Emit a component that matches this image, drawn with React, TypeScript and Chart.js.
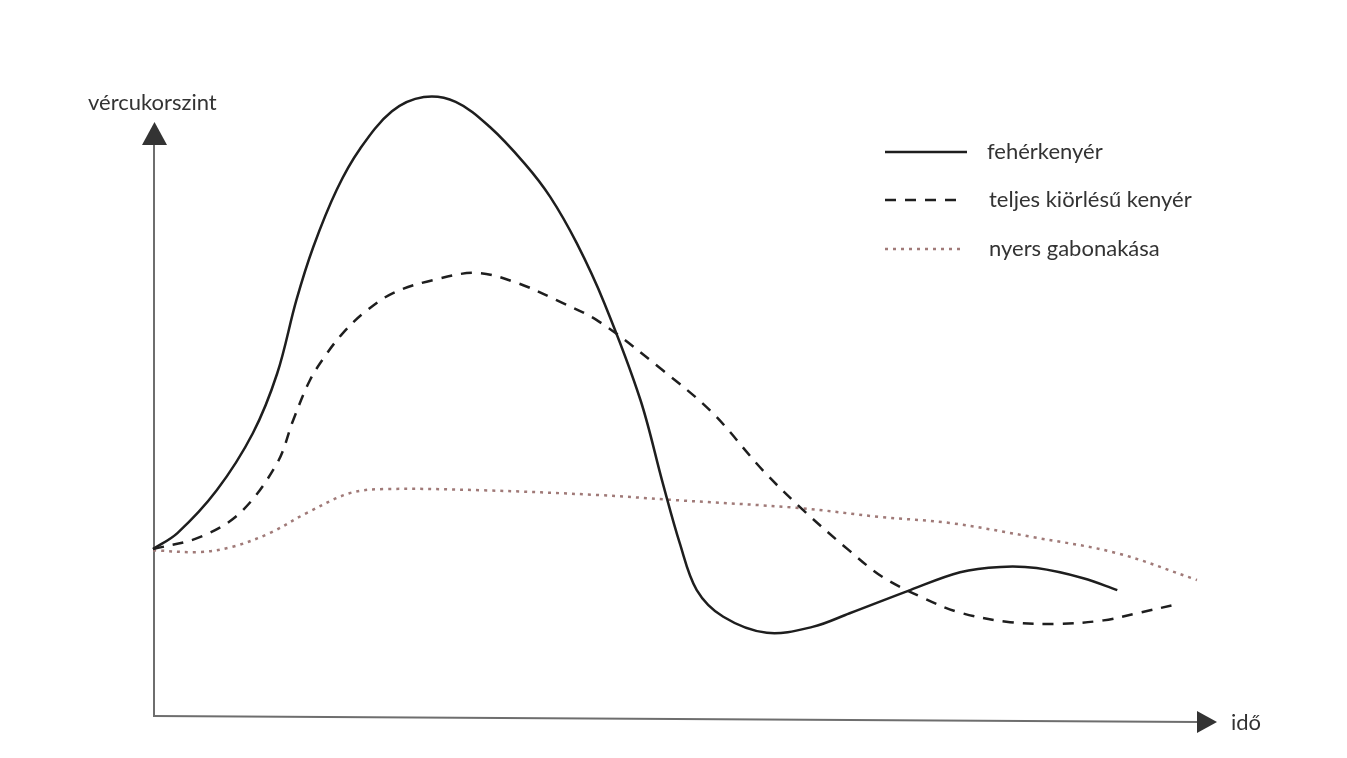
import React, { useEffect, useRef } from "react";
import { Chart, registerables } from "chart.js";

Chart.register(...registerables);

// time (0..100) and blood-sugar level (0..110) readings
const whiteX = [0, 2.3, 6.0, 9.4, 11.7, 13.5, 15.1, 17.3, 19.5, 22.5, 25.5, 28.5, 31.7, 35.0, 37.4, 39.9, 42.5, 45.9, 48.0, 49.6, 51.2, 53.7, 57.8, 62.1, 65.6, 71.3, 76.0, 79.8, 83.2, 87.6, 90.8];
const whiteY = [28.1, 30.8, 38.0, 47.6, 57.7, 70.0, 79.0, 88.6, 95.5, 101.8, 104.2, 103.4, 99.2, 93.0, 87.4, 79.6, 69.5, 53.2, 39.2, 29.1, 21.2, 16.7, 14.0, 15.0, 17.3, 21.2, 24.2, 25.1, 24.9, 23.2, 21.2];

const wholeX = [0, 4.4, 8.2, 11.7, 13.2, 14.8, 16.4, 17.9, 19.8, 22.6, 26.4, 30.5, 34.3, 38.0, 42.0, 48.0, 52.7, 57.4, 61.2, 65.6, 68.7, 72.5, 76.0, 80.7, 85.1, 89.5, 92.9, 95.9];
const wholeY = [28.1, 30.1, 34.2, 42.6, 49.8, 56.6, 61.1, 64.5, 67.8, 71.2, 73.4, 74.6, 72.9, 70.0, 66.4, 58.2, 51.0, 41.4, 34.7, 27.8, 23.4, 19.9, 17.4, 15.8, 15.5, 16.1, 17.4, 18.6];

const rawX = [0, 4.4, 7.5, 11.0, 14.5, 18.5, 21.7, 31.1, 41.9, 48.7, 60.9, 68.5, 75.0, 82.9, 90.8, 98.3];
const rawY = [27.9, 27.6, 28.5, 30.8, 34.2, 37.5, 38.2, 38.0, 37.2, 36.4, 35.0, 33.5, 32.5, 30.1, 27.4, 22.9];

const seriesLabels = ["fehérkenyér", "teljes kiörlésű kenyér", "nyers gabonakása"];
const yAxisTitle = "vércukorszint";
const xAxisTitle = "idő";

const FONT = 'Lato, "Open Sans", sans-serif';

const toPts = (xs: number[], ys: number[]) => xs.map((x, i) => ({ x, y: ys[i] }));

const decorPlugin = {
  id: "decor",
  beforeDatasetsDraw(chart: any) {
    const { ctx, scales } = chart;
    const xs = scales.x;
    const ys = scales.y;
    const x0 = xs.getPixelForValue(0);
    const y0 = ys.getPixelForValue(0);
    const yTip = ys.getPixelForValue(100);
    const xTip = xs.getPixelForValue(100);
    ctx.save();
    // y axis
    ctx.strokeStyle = "#6e6e6e";
    ctx.lineWidth = 2;
    ctx.beginPath();
    ctx.moveTo(x0 + 1, y0);
    ctx.lineTo(x0 + 1, yTip + 20);
    ctx.stroke();
    ctx.fillStyle = "#333";
    ctx.beginPath();
    ctx.moveTo(x0 + 1.5, yTip);
    ctx.lineTo(x0 - 11, yTip + 23);
    ctx.lineTo(x0 + 14, yTip + 23);
    ctx.closePath();
    ctx.fill();
    // x axis (slightly tilted as in the scan)
    ctx.beginPath();
    ctx.moveTo(x0, y0);
    ctx.lineTo(xTip - 16, y0 + 6);
    ctx.stroke();
    ctx.beginPath();
    ctx.moveTo(xTip + 2, y0 + 6);
    ctx.lineTo(xTip - 18, y0 - 5);
    ctx.lineTo(xTip - 18, y0 + 17);
    ctx.closePath();
    ctx.fill();
    // text size chosen so that the longest legend entry spans ~203px
    ctx.font = `17px ${FONT}`;
    const w = ctx.measureText(seriesLabels[1]).width;
    const size = Math.round((17 * 203 / w) * 10) / 10;
    ctx.font = `${size}px ${FONT}`;
    ctx.fillStyle = "#333";
    ctx.textBaseline = "middle";
    ctx.textAlign = "left";
    ctx.fillText(yAxisTitle, 88, 103);
    ctx.fillText(xAxisTitle, 1231, 723);
    // legend
    const rows = [152, 200, 249];
    const ends = [967, 956, 962];
    chart.data.datasets.forEach((ds: any, i: number) => {
      const y = rows[i];
      ctx.save();
      ctx.strokeStyle = ds.borderColor;
      ctx.lineWidth = ds.borderWidth;
      ctx.setLineDash(ds.borderDash || []);
      ctx.beginPath();
      ctx.moveTo(885, y);
      ctx.lineTo(ends[i], y);
      ctx.stroke();
      ctx.restore();
      ctx.fillStyle = "#333";
      ctx.fillText(ds.label, i === 0 ? 987 : 989, y);
    });
    ctx.restore();
  },
};

export default function App() {
  const ref = useRef<HTMLCanvasElement | null>(null);
  useEffect(() => {
    if (!ref.current) return;
    const chart = new Chart(ref.current, {
      type: "line",
      data: {
        datasets: [
          {
            label: seriesLabels[0],
            data: toPts(whiteX, whiteY),
            borderColor: "#1e1e1e",
            borderWidth: 2.5,
            pointRadius: 0,
            tension: 0.35,
            fill: false,
            clip: false,
          },
          {
            label: seriesLabels[1],
            data: toPts(wholeX, wholeY),
            borderColor: "#1e1e1e",
            borderWidth: 2.5,
            borderDash: [11, 9],
            pointRadius: 0,
            tension: 0.35,
            fill: false,
            clip: false,
          },
          {
            label: seriesLabels[2],
            data: toPts(rawX, rawY),
            borderColor: "#a07a78",
            borderWidth: 2.5,
            borderDash: [3, 5],
            pointRadius: 0,
            tension: 0.35,
            fill: false,
            clip: false,
          },
        ] as any,
      },
      options: {
        animation: false,
        responsive: false,
        devicePixelRatio: 1,
        layout: { padding: { left: 153, right: 132, top: 62.6, bottom: 42 } },
        scales: {
          x: { type: "linear", min: 0, max: 100, display: false },
          y: { type: "linear", min: 0, max: 110, display: false },
        },
        plugins: { legend: { display: false }, tooltip: { enabled: false } },
      },
      plugins: [decorPlugin],
    });
    return () => chart.destroy();
  }, []);
  return (
    <div style={{ position: "fixed", left: 0, top: 0, width: 1347, height: 758, background: "#fff" }}>
      <canvas ref={ref} width={1347} height={758} style={{ width: 1347, height: 758, display: "block" }} />
    </div>
  );
}
